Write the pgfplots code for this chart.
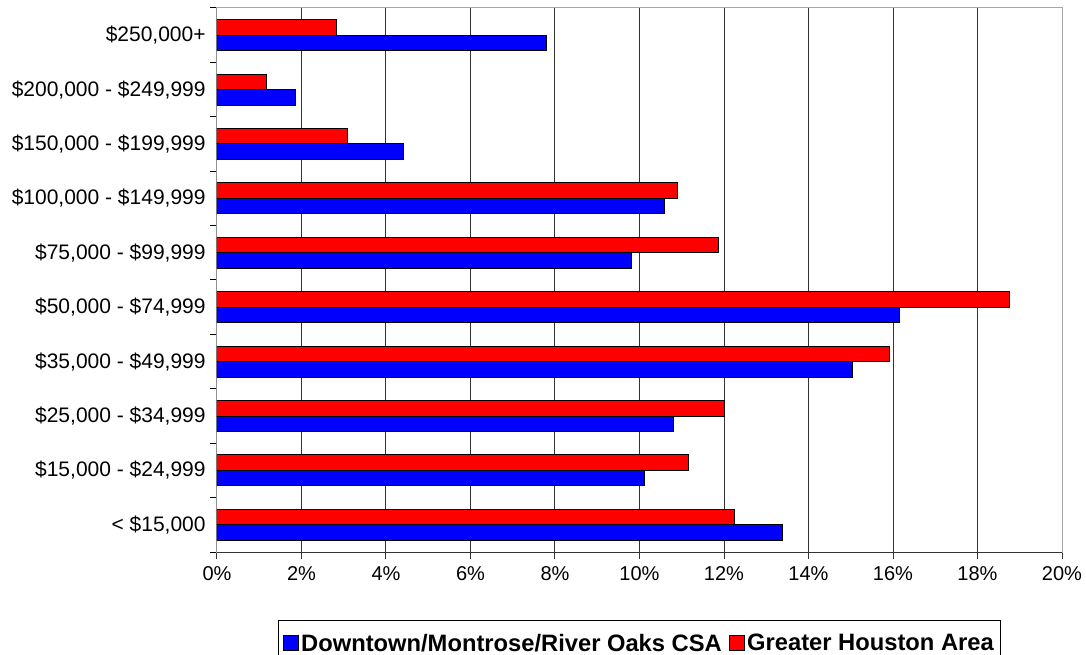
\documentclass[border=0pt]{standalone}
\usepackage{fontspec}
\setmainfont{Liberation Sans}
\usepackage{pgfplots}
\pgfplotsset{compat=1.18}

\begin{document}
\begin{tikzpicture}
\begin{axis}[
  xbar, scale only axis, width=633.75pt, height=408pt,
  xmin=0, xmax=20, ymin=-0.5, ymax=9.5,
  bar width=11.6pt,
  axis line style={draw=gray!70, line width=0.75pt},
  xtick={0,2,...,20},
  xticklabel={\pgfmathprintnumber{\tick}\%},
  /pgf/number format/assume math mode=true,
  ytick={0,...,9},
  yticklabels={{< \$15,000},{\$15,000 - \$24,999},{\$25,000 - \$34,999},{\$35,000 - \$49,999},
    {\$50,000 - \$74,999},{\$75,000 - \$99,999},{\$100,000 - \$149,999},{\$150,000 - \$199,999},
    {\$200,000 - \$249,999},{\$250,000+}},
  minor ytick={-0.5,0.5,...,9.5},
  xtick pos=bottom, ytick pos=left,
  tick align=outside,
  major tick length=5pt, minor tick length=5.25pt,
  major y tick style={draw=none},
  minor y tick style={black, line width=0.75pt},
  major x tick style={black!80, line width=0.75pt},
  xmajorgrids, grid style={black!80, line width=0.75pt},
  yticklabel style={font=\fontsize{15.75}{18}\selectfont},
  xticklabel style={font=\fontsize{15}{18}\selectfont, yshift=-2.5pt},
  legend style={at={(0.5,0)}, anchor=north, yshift=-51pt, draw=black, line width=0.75pt,
    legend columns=2, font=\fontsize{17.8}{20}\selectfont\bfseries,
    inner xsep=3pt, inner ysep=8pt,
    /tikz/every even column/.append style={column sep=3pt}},
  legend image code/.code={\draw[#1, line width=0.75pt] (0pt,-5.6pt) rectangle (11.25pt,5.6pt);},
]
\addplot[fill=blue, draw=black, line width=0.75pt, bar shift=-5.8pt] coordinates
  {(13.39,0) (10.11,1) (10.81,2) (15.04,3) (16.15,4) (9.81,5) (10.60,6) (4.42,7) (1.85,8) (7.80,9)};
\addplot[fill=red, draw=black, line width=0.75pt, bar shift=5.8pt] coordinates
  {(12.25,0) (11.17,1) (12.02,2) (15.92,3) (18.75,4) (11.88,5) (10.91,6) (3.09,7) (1.17,8) (2.83,9)};
\legend{Downtown/Montrose/River Oaks CSA, Greater Houston Area}
\draw[black, line width=0.75pt] (rel axis cs:0,0) -- (rel axis cs:0,1);
\draw[black!80, line width=0.75pt] (rel axis cs:0,0) -- (rel axis cs:1,0);
\coordinate (bl) at (rel axis cs:0,0);
\coordinate (tr) at (rel axis cs:1,1);
\end{axis}
\pgfresetboundingbox
\useasboundingbox ([xshift=-162.75pt,yshift=-76.5pt]bl) rectangle ([xshift=18pt,yshift=6pt]tr);
\end{tikzpicture}
\end{document}
